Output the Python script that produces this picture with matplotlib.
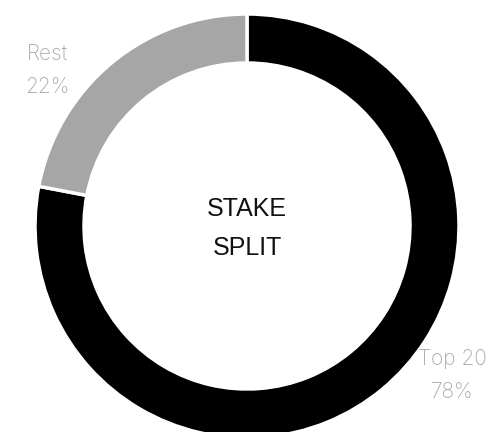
import matplotlib.pyplot as plt

labels = ["Top 20", "Rest"]
shares = [78, 22]
colors = ["#000000", "#a6a6a6"]
title_lines = ["STAKE", "SPLIT"]

fig = plt.figure(figsize=(4.9, 4.32), dpi=100)
ax = fig.add_axes([0, 0, 1, 1])
ax.set_aspect("equal")
ax.axis("off")

# donut, clockwise from 12 o'clock so Top 20 sits on the right
ax.pie(shares, colors=colors, radius=212, center=(247, 206),
       startangle=90, counterclock=False,
       wedgeprops=dict(width=49, edgecolor="white", linewidth=2.5))
ax.set_xlim(0, 490)
ax.set_ylim(0, 432)

# center title
ax.text(247, 216, title_lines[0], ha="center", va="baseline",
        fontsize=18, family="Liberation Sans", color="#111111")
ax.text(247, 177, title_lines[1], ha="center", va="baseline",
        fontsize=18, family="Liberation Sans", color="#111111")

label_pos = {"Top 20": (452, 432 - 365), "Rest": (47, 432 - 60)}
for name, val in zip(labels, shares):
    x, y = label_pos[name]
    ax.text(x, y, name, ha="center", va="baseline", fontsize=15,
            family="Inter", fontweight="light", color="#aaaaaa")
    ax.text(x, y - 33, "%d%%" % val, ha="center", va="baseline", fontsize=15,
            family="Inter", fontweight="light", color="#aaaaaa")

fig.savefig("out.png", dpi=100, facecolor="white")
